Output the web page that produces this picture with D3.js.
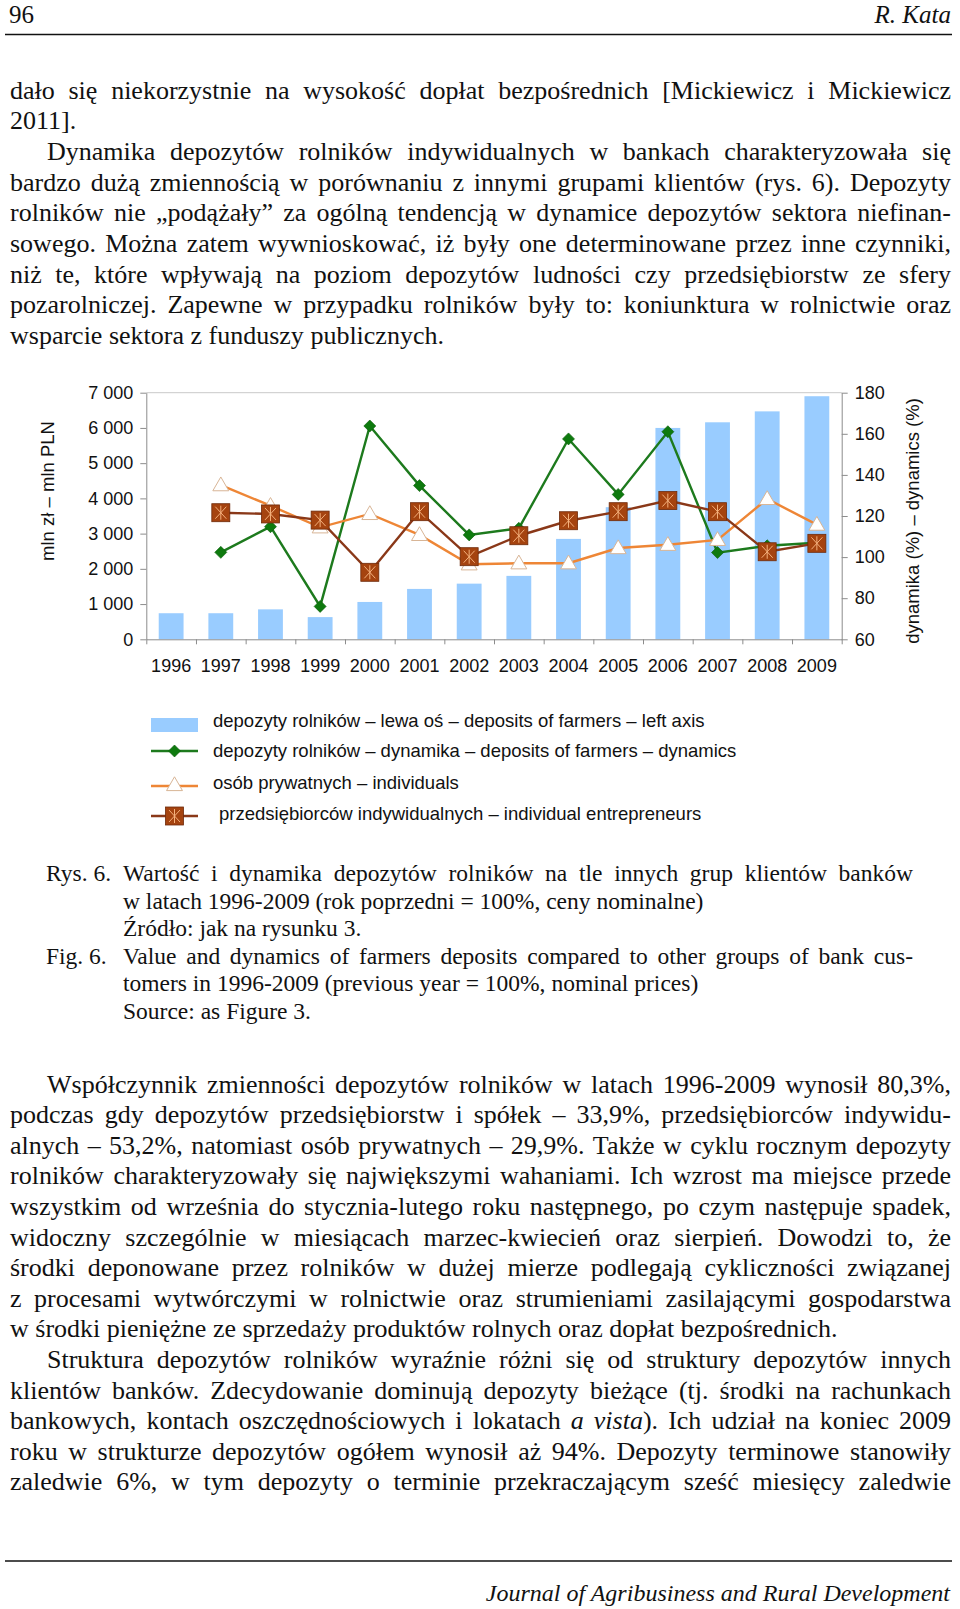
<!DOCTYPE html>
<html><head><meta charset="utf-8">
<script src="https://cdn.jsdelivr.net/npm/d3@7"></script>
<style>body{margin:0;background:#fff}svg{display:block}</style>
</head><body>
<svg id="page" width="960" height="1609"></svg>
<script>
// ---------- chart data ----------
const years = ["1996","1997","1998","1999","2000","2001","2002","2003","2004","2005","2006","2007","2008","2009"];
const farmersDeposits = [740, 740, 850, 630, 1060, 1430, 1580, 1800, 2850, 3750, 6000, 6160, 6470, 6900];
const farmersDynamics = [null, 102.3, 114.8, 76, 163.8, 134.8, 110.8, 114, 157.5, 130.5, 161, 102.2, 105.5, 107];
const individualsDynamics = [null, 135, 125, 114.5, 121, 110.8, 96.5, 97, 97, 104.4, 106, 108.4, 128.3, 115.8];
const entrepreneursDynamics = [null, 121.6, 121, 118, 92.6, 122.1, 100.2, 110.4, 117.7, 122.1, 127.5, 122.1, 102.6, 106.7];
const leftTicks = [0, 1000, 2000, 3000, 4000, 5000, 6000, 7000];
const leftTickLabels = ["0", "1 000", "2 000", "3 000", "4 000", "5 000", "6 000", "7 000"];
const rightTicks = [60, 80, 100, 120, 140, 160, 180];
const rightTickLabels = ["60", "80", "100", "120", "140", "160", "180"];
const leftAxisTitle = "mln zł – mln PLN";
const rightAxisTitle = "dynamika (%) – dynamics (%)";
const legendLabels = [
  "depozyty rolników – lewa oś – deposits of farmers – left axis",
  "depozyty rolników – dynamika – deposits of farmers – dynamics",
  "osób prywatnych – individuals",
  "przedsiębiorców indywidualnych – individual entrepreneurs"
];

// ---------- page text ----------
const headerLeft = "96";
const headerRight = "R. Kata";
const topLines = [
  "dało się niekorzystnie na wysokość dopłat bezpośrednich [Mickiewicz i Mickiewicz",
  "2011].",
  "Dynamika depozytów rolników indywidualnych w bankach charakteryzowała się",
  "bardzo dużą zmiennością w porównaniu z innymi grupami klientów (rys. 6). Depozyty",
  "rolników nie „podążały” za ogólną tendencją w dynamice depozytów sektora niefinan-",
  "sowego. Można zatem wywnioskować, iż były one determinowane przez inne czynniki,",
  "niż te, które wpływają na poziom depozytów ludności czy przedsiębiorstw ze sfery",
  "pozarolniczej. Zapewne w przypadku rolników były to: koniunktura w rolnictwie oraz",
  "wsparcie sektora z funduszy publicznych."
];
const topIndent = [false, false, true, false, false, false, false, false, false];
const topJustify = [true, false, true, true, true, true, true, true, false];
const captionLabels = ["Rys. 6.", "", "", "Fig. 6.", "", ""];
const captionLines = [
  "Wartość i dynamika depozytów rolników na tle innych grup klientów banków",
  "w latach 1996-2009 (rok poprzedni = 100%, ceny nominalne)",
  "Źródło: jak na rysunku 3.",
  "Value and dynamics of farmers deposits compared to other groups of bank cus-",
  "tomers in 1996-2009 (previous year = 100%, nominal prices)",
  "Source: as Figure 3."
];
const captionJustify = [true, false, false, true, false, false];
const bottomLines = [
  "Współczynnik zmienności depozytów rolników w latach 1996-2009 wynosił 80,3%,",
  "podczas gdy depozytów przedsiębiorstw i spółek – 33,9%, przedsiębiorców indywidu-",
  "alnych – 53,2%, natomiast osób prywatnych – 29,9%. Także w cyklu rocznym depozyty",
  "rolników charakteryzowały się największymi wahaniami. Ich wzrost ma miejsce przede",
  "wszystkim od września do stycznia-lutego roku następnego, po czym następuje spadek,",
  "widoczny szczególnie w miesiącach marzec-kwiecień oraz sierpień. Dowodzi to, że",
  "środki deponowane przez rolników w dużej mierze podlegają cykliczności związanej",
  "z procesami wytwórczymi w rolnictwie oraz strumieniami zasilającymi gospodarstwa",
  "w środki pieniężne ze sprzedaży produktów rolnych oraz dopłat bezpośrednich.",
  "Struktura depozytów rolników wyraźnie różni się od struktury depozytów innych",
  "klientów banków. Zdecydowanie dominują depozyty bieżące (tj. środki na rachunkach",
  "bankowych, kontach oszczędnościowych i lokatach *a vista*). Ich udział na koniec 2009",
  "roku w strukturze depozytów ogółem wynosił aż 94%. Depozyty terminowe stanowiły",
  "zaledwie 6%, w tym depozyty o terminie przekraczającym sześć miesięcy zaledwie"
];
const bottomIndent = [true, false, false, false, false, false, false, false, false, true, false, false, false, false];
const bottomJustify = [true, true, true, true, true, true, true, true, false, true, true, true, true, true];
const footerText = "Journal of Agribusiness and Rural Development";

// ---------- drawing ----------
const svg = d3.select("#page");
svg.append("rect").attr("width", 960).attr("height", 1609).attr("fill", "#fff");
const SERIF = "'Liberation Serif','Times New Roman',serif";
const SANS = "'Liberation Sans',Arial,sans-serif";

function parseWords(str) {
  let it = false;
  return str.split(" ").filter(w => w.length).map(w => {
    const parts = w.split("*");
    const runs = [];
    parts.forEach((p, i) => {
      if (i > 0) it = !it;
      if (p.length) runs.push({ t: p, it: it });
    });
    return runs;
  });
}
function measureRuns(g, runs, size) {
  const m = g.append("text").attr("font-family", SERIF).attr("font-size", size);
  runs.forEach(r => m.append("tspan").attr("font-style", r.it ? "italic" : "normal").text(r.t));
  const w = m.node().getComputedTextLength();
  m.remove();
  return w;
}
function drawLine(g, str, x, y, right, justify, size) {
  const words = parseWords(str);
  const widths = words.map(w => measureRuns(g, w, size));
  const sum = d3.sum(widths);
  const spaceW = measureRuns(g, [{t: "a a", it: false}], size) - measureRuns(g, [{t: "aa", it: false}], size);
  const gap = (justify && words.length > 1) ? (right - x - sum) / (words.length - 1) : spaceW;
  const t = g.append("text").attr("y", y).attr("font-family", SERIF).attr("font-size", size).attr("fill", "#111");
  let cx = x;
  words.forEach((w, i) => {
    w.forEach((r, j) => {
      const ts = t.append("tspan").attr("font-style", r.it ? "italic" : "normal").text(r.t);
      if (j === 0) ts.attr("x", cx);
    });
    cx += widths[i] + gap;
  });
}

const textG = svg.append("g");
// header
textG.append("text").attr("x", 9).attr("y", 23).attr("font-family", SERIF).attr("font-size", 25).attr("fill", "#111").text(headerLeft);
textG.append("text").attr("x", 951).attr("y", 23).attr("text-anchor", "end").attr("font-family", SERIF).attr("font-style", "italic").attr("font-size", 25).attr("fill", "#111").text(headerRight);
textG.append("line").attr("x1", 5).attr("x2", 952).attr("y1", 34.5).attr("y2", 34.5).attr("stroke", "#111").attr("stroke-width", 1.5);

topLines.forEach((l, i) => drawLine(textG, l, topIndent[i] ? 47 : 10, 98.5 + 30.7 * i, 951, topJustify[i], 26));
captionLines.forEach((l, i) => {
  if (captionLabels[i]) textG.append("text").attr("x", 46).attr("y", 881 + 27.5 * i).attr("font-family", SERIF).attr("font-size", 23.5).attr("fill", "#111").text(captionLabels[i]);
  drawLine(textG, l, 123, 881 + 27.5 * i, 913, captionJustify[i], 23.5);
});
bottomLines.forEach((l, i) => drawLine(textG, l, bottomIndent[i] ? 47 : 10, 1092.5 + 30.6 * i, 951, bottomJustify[i], 26));

textG.append("line").attr("x1", 5).attr("x2", 952).attr("y1", 1561).attr("y2", 1561).attr("stroke", "#111").attr("stroke-width", 1.5);
textG.append("text").attr("x", 950).attr("y", 1601).attr("text-anchor", "end").attr("font-family", SERIF).attr("font-style", "italic").attr("font-size", 24).attr("fill", "#111").text(footerText);

// chart
const X0 = 146.3, X1 = 841.7, YT = 392.7, YB = 639.3;
const x = d3.scaleBand().domain(years).range([X0, X1]).paddingInner(0.5).paddingOuter(0.25);
const xb = d3.scaleLinear().domain([0, years.length]).range([X0, X1]);
const yL = d3.scaleLinear().domain([0, 7000]).range([YB, YT]);
const yR = d3.scaleLinear().domain([60, 180]).range([YB, YT]);
const cxOf = i => x(years[i]) + x.bandwidth() / 2;
const chart = svg.append("g").attr("font-family", SANS);

chart.append("line").attr("x1", X0).attr("x2", X1).attr("y1", yL(7000)).attr("y2", yL(7000)).attr("stroke", "#c9c9c9").attr("stroke-width", 1);

chart.append("g").selectAll("rect").data(farmersDeposits).join("rect")
  .attr("x", (d, i) => x(years[i])).attr("width", x.bandwidth())
  .attr("y", d => yL(d)).attr("height", d => YB - yL(d)).attr("fill", "#99CCFF");

function styleAxis(g) {
  g.select(".domain").attr("stroke", "#8c8c8c");
  g.selectAll(".tick line").attr("stroke", "#8c8c8c");
  g.selectAll(".tick text").attr("fill", "#111").attr("font-size", 18).attr("font-family", SANS);
}
chart.append("g").attr("transform", `translate(${X0},0)`)
  .call(d3.axisLeft(yL).tickValues(leftTicks).tickFormat((d, i) => leftTickLabels[i]).tickSize(6).tickSizeOuter(0).tickPadding(7))
  .call(styleAxis);
chart.append("g").attr("transform", `translate(${X1},0)`)
  .call(d3.axisRight(yR).tickValues(rightTicks).tickFormat((d, i) => rightTickLabels[i]).tickSize(6).tickSizeOuter(0).tickPadding(7))
  .call(styleAxis);
chart.append("g").attr("transform", `translate(0,${YB})`)
  .call(d3.axisBottom(xb).tickValues(d3.range(years.length + 1)).tickFormat("").tickSize(5).tickSizeOuter(0))
  .call(styleAxis);
chart.append("g").attr("transform", `translate(0,${YB})`)
  .call(d3.axisBottom(x).tickSize(0).tickPadding(20))
  .call(g => g.select(".domain").remove())
  .call(styleAxis);

chart.append("text").attr("transform", `translate(48,491) rotate(-90)`).attr("text-anchor", "middle").attr("dy", "0.35em")
  .attr("font-size", 18.5).attr("fill", "#111").text(leftAxisTitle);
chart.append("text").attr("transform", `translate(913,521) rotate(-90)`).attr("text-anchor", "middle").attr("dy", "0.35em")
  .attr("font-size", 18.5).attr("fill", "#111").text(rightAxisTitle);

const GREEN = "#1D7A1D", GREEN_M = "#0E7A0E", ORANGE = "#EE8636", BROWN = "#8A3818", BROWN_F = "#A5430F", BROWN_S = "#6E2A0A", STAR = "#F4B07C", TRI_S = "#D8B596";
const lineGen = d3.line().defined(d => d != null).x((d, i) => cxOf(i)).y(d => yR(d));
const diamond = d3.symbol(d3.symbolSquare).size(72);
const triangle = d3.symbol(d3.symbolTriangle).size(110);

function drawDiamond(g, x0, y0) {
  g.append("path").attr("d", diamond()).attr("transform", `translate(${x0},${y0}) rotate(45)`).attr("fill", GREEN_M).attr("stroke", "#0a5e0a").attr("stroke-width", 0.6);
}
function drawTriangle(g, x0, y0) {
  g.append("path").attr("d", triangle()).attr("transform", `translate(${x0},${y0 + 1})`).attr("fill", "#fff").attr("stroke", TRI_S).attr("stroke-width", 1);
}
function drawSquare(g, x0, y0) {
  const s = g.append("g").attr("transform", `translate(${x0},${y0})`);
  s.append("rect").attr("x", -9).attr("y", -9).attr("width", 18).attr("height", 18).attr("fill", BROWN_F).attr("stroke", BROWN_S).attr("stroke-width", 0.8);
  s.append("path").attr("d", "M-5.5,-6L5.5,6M-5.5,6L5.5,-6M0,-7L0,7").attr("stroke", STAR).attr("stroke-width", 1).attr("fill", "none");
}

const series = [
  { data: farmersDynamics, color: GREEN, marker: drawDiamond },
  { data: individualsDynamics, color: ORANGE, marker: drawTriangle },
  { data: entrepreneursDynamics, color: BROWN, marker: drawSquare }
];
series.forEach(s => {
  const g = chart.append("g");
  g.append("path").datum(s.data).attr("d", lineGen).attr("fill", "none").attr("stroke", s.color).attr("stroke-width", 2.4);
  s.data.forEach((v, i) => { if (v != null) s.marker(g, cxOf(i), yR(v)); });
});

// legend
const leg = chart.append("g");
const LX0 = 151, LX1 = 198, LC = (LX0 + LX1) / 2;
leg.append("rect").attr("x", LX0).attr("y", 718).attr("width", LX1 - LX0).attr("height", 14).attr("fill", "#99CCFF");
leg.append("line").attr("x1", LX0).attr("x2", LX1).attr("y1", 751).attr("y2", 751).attr("stroke", GREEN).attr("stroke-width", 2.4);
drawDiamond(leg, LC, 751);
leg.append("line").attr("x1", LX0).attr("x2", LX1).attr("y1", 786).attr("y2", 786).attr("stroke", ORANGE).attr("stroke-width", 2.4);
drawTriangle(leg, LC, 785);
leg.append("line").attr("x1", LX0).attr("x2", LX1).attr("y1", 816).attr("y2", 816).attr("stroke", BROWN).attr("stroke-width", 2.4);
drawSquare(leg, LC, 816);
const legBase = [727, 757, 789, 820];
legendLabels.forEach((l, i) => {
  leg.append("text").attr("x", i === 3 ? 219 : 213).attr("y", legBase[i]).attr("font-size", 18.5).attr("fill", "#111").text(l);
});
</script>
</body></html>
